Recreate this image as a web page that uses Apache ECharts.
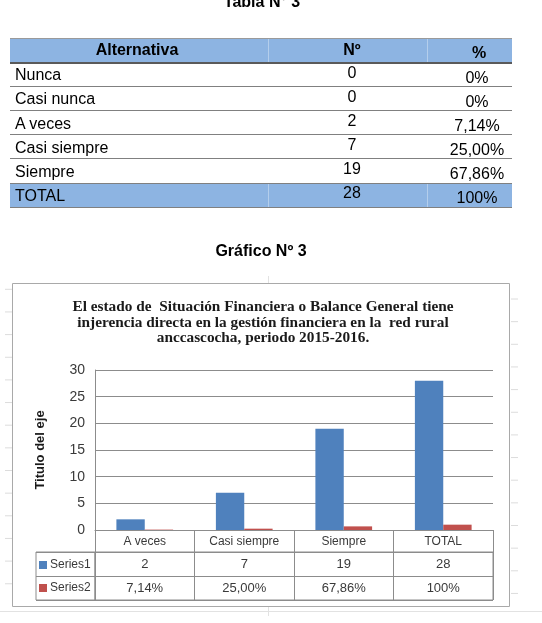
<!DOCTYPE html>
<html><head><meta charset="utf-8">
<script src="https://cdn.jsdelivr.net/npm/echarts@6/dist/echarts.min.js"></script>
<style>
html,body{margin:0;padding:0;background:#fff;width:542px;height:623px;overflow:hidden;font-family:'Liberation Sans',Arial,sans-serif;}
#chart{position:absolute;left:0;top:0;width:542px;height:623px;}
#doc{position:absolute;left:0;top:0;width:542px;height:270px;}
.t{position:absolute;white-space:nowrap;color:#000;font-size:16px;line-height:16px;}
.c{text-align:center;width:120px;}
.b{font-weight:bold;}
.bg{position:absolute;background:#8db4e2;}
.hl{position:absolute;height:0;border-top:1px solid #7a7a7a;}
.vl{position:absolute;width:0;border-left:1px solid rgba(255,255,255,0.35);}
</style></head><body>
<div id="chart"></div>
<div id="doc"></div>
<script>
// ---- Data ----
const tableTitle = 'Tabla N° 3';
const chartCaption = 'Gráfico Nº 3';
const tableHeaders = ['Alternativa', 'Nº', '%'];
const tableAlternatives = ['Nunca', 'Casi nunca', 'A veces', 'Casi siempre', 'Siempre', 'TOTAL'];
const tableCounts = [0, 0, 2, 7, 19, 28];
const tablePercents = ['0%', '0%', '7,14%', '25,00%', '67,86%', '100%'];

const chartTitleLines = [
  'El estado de  Situación Financiera o Balance General tiene',
  'injerencia directa en la gestión financiera en la  red rural',
  'anccascocha, periodo 2015-2016.'
];
const categories = ['A veces', 'Casi siempre', 'Siempre', 'TOTAL'];
const seriesNames = ['Series1', 'Series2'];
const series1 = [2, 7, 19, 28];
const series2 = [0.0714, 0.25, 0.6786, 1];
const series2Labels = ['7,14%', '25,00%', '67,86%', '100%'];
const yAxisTitle = 'Titulo del eje';

// ---- Document part (table) ----
const doc = document.getElementById('doc');
function add(cls, text, css) {
  const d = document.createElement('div');
  d.className = cls;
  if (text !== null) d.textContent = text;
  Object.assign(d.style, css);
  doc.appendChild(d);
  return d;
}
const BASE = 13.5; // baseline offset in a 16px line box
add('t c b', tableTitle, {left: (262 - 60) + 'px', top: (7 - BASE) + 'px'});
add('t c b', chartCaption, {left: (261 - 60) + 'px', top: (256 - BASE) + 'px'});

const tX0 = 10, tX1 = 512, headTop = 38, rowH = 24.1, row0 = 62.5;
const col1C = 352, col2C = 477;
add('bg', null, {left: tX0 + 'px', top: headTop + 'px', width: (tX1 - tX0) + 'px', height: (row0 - headTop) + 'px'});
const totalTop = row0 + rowH * (tableAlternatives.length - 1);
add('bg', null, {left: tX0 + 'px', top: totalTop + 'px', width: (tX1 - tX0) + 'px', height: rowH + 'px'});
[268, 427].forEach(x => {
  add('vl', null, {left: x + 'px', top: headTop + 'px', height: (row0 - headTop) + 'px'});
  add('vl', null, {left: x + 'px', top: totalTop + 'px', height: rowH + 'px'});
});
add('t c b', tableHeaders[0], {left: (137 - 60) + 'px', top: (55 - BASE) + 'px'});
add('t c b', tableHeaders[1], {left: (col1C - 60) + 'px', top: (55 - BASE) + 'px'});
add('t c b', tableHeaders[2], {left: (479 - 60) + 'px', top: (58.3 - BASE) + 'px'});
// horizontal lines
add('hl', null, {left: tX0 + 'px', top: headTop + 'px', width: (tX1 - tX0) + 'px', borderTopColor: '#9a9a9a'});
for (let i = 0; i <= tableAlternatives.length; i++) {
  const y = row0 + rowH * i;
  add('hl', null, {left: tX0 + 'px', top: (y - 0.5) + 'px', width: (tX1 - tX0) + 'px', borderTopWidth: (i === 0 ? '2px' : '1.5px'), borderTopColor: (i === 0 ? '#5a5a5a' : '#808080')});
}
tableAlternatives.forEach((name, i) => {
  const top = row0 + rowH * i;
  add('t', name, {left: '15px', top: (top + 18.3 - BASE) + 'px'});
  add('t c', String(tableCounts[i]), {left: (col1C - 60) + 'px', top: (top + 15.7 - BASE) + 'px'});
  add('t c', tablePercents[i], {left: (col2C - 60) + 'px', top: (top + 20.7 - BASE) + 'px'});
});

// ---- Chart ----
const chart = echarts.init(document.getElementById('chart'), null, {renderer: 'canvas'});
const lineColor = '#8c8c8c';
const textColor = '#3a3a3a';
const FONT = 'Liberation Sans';

const tableCells = [];
categories.forEach((c, i) => {
  tableCells.push({value: [c, seriesNames[0]], label: {formatter: String(series1[i])}});
  tableCells.push({value: [c, seriesNames[1]], label: {formatter: series2Labels[i]}});
});

// faint worksheet gridlines visible around the chart frame (decoration)
const sheetLines = [];
for (let k = 0; k < 14; k++) {
  const yl = 289.3 + 22.65 * k;
  sheetLines.push({type: 'line', shape: {x1: 5, y1: yl, x2: 12, y2: yl}, style: {stroke: '#dcdcdc', lineWidth: 1}, silent: true});
  const yr = 299 + 22.65 * k;
  sheetLines.push({type: 'line', shape: {x1: 511, y1: yr, x2: 518, y2: yr}, style: {stroke: '#dcdcdc', lineWidth: 1}, silent: true});
}
sheetLines.push({type: 'line', shape: {x1: 0, y1: 611.5, x2: 542, y2: 611.5}, style: {stroke: '#e2e2e2', lineWidth: 1}, silent: true});
sheetLines.push({type: 'line', shape: {x1: 268.5, y1: 276, x2: 268.5, y2: 283}, style: {stroke: '#e2e2e2', lineWidth: 1}, silent: true});
sheetLines.push({type: 'line', shape: {x1: 268.5, y1: 607, x2: 268.5, y2: 616}, style: {stroke: '#e2e2e2', lineWidth: 1}, silent: true});

const option = {
  animation: false,
  backgroundColor: 'transparent',
  graphic: sheetLines.concat([
    {type: 'rect', shape: {x: 12.5, y: 283.5, width: 497, height: 323}, style: {fill: 'none', stroke: '#a9a9a9', lineWidth: 1}, silent: true, z: -1},
    {type: 'text', x: 263, y: 299.5, style: {text: chartTitleLines.join('\n'), align: 'center', verticalAlign: 'top', font: 'bold 15.3px "Liberation Serif"', lineHeight: 15.5, fill: '#1a1a1a'}}
  ]),
  legend: [
    {data: [seriesNames[0]], left: 39, top: 559, orient: 'horizontal', icon: 'rect', itemWidth: 8, itemHeight: 8, itemGap: 4, selectedMode: false, padding: 0, textStyle: {fontFamily: FONT, fontSize: 12, color: textColor, padding: [0, 0, 0, -2]}},
    {data: [seriesNames[1]], left: 39, top: 582, orient: 'horizontal', icon: 'rect', itemWidth: 8, itemHeight: 8, itemGap: 4, selectedMode: false, padding: 0, textStyle: {fontFamily: FONT, fontSize: 12, color: textColor, padding: [0, 0, 0, -2]}}
  ],
  grid: [
    {left: 95, width: 398, top: 370, height: 160, containLabel: false},
    {left: 95, width: 398, top: 552, height: 48, show: true, borderColor: lineColor, borderWidth: 1, backgroundColor: 'transparent'},
    {left: 36, width: 59, top: 552, height: 48, show: true, borderColor: lineColor, borderWidth: 1, backgroundColor: 'transparent'}
  ],
  xAxis: [
    {type: 'category', gridIndex: 0, data: categories,
     axisLine: {show: true, lineStyle: {color: lineColor, width: 1}},
     axisTick: {show: true, length: 22, lineStyle: {color: lineColor, width: 1}},
     axisLabel: {fontFamily: FONT, fontSize: 12, color: textColor, margin: 6},
     splitLine: {show: false}},
    {type: 'category', gridIndex: 1, data: categories,
     axisLine: {show: false}, axisTick: {show: false}, axisLabel: {show: false},
     splitLine: {show: true, lineStyle: {color: lineColor, width: 1}}},
    {type: 'category', gridIndex: 2, data: [''],
     axisLine: {show: false}, axisTick: {show: false}, axisLabel: {show: false}, splitLine: {show: false}}
  ],
  yAxis: [
    {type: 'value', gridIndex: 0, min: 0, max: 30, interval: 5,
     axisLine: {show: true, lineStyle: {color: lineColor, width: 1}},
     axisTick: {show: false},
     axisLabel: {fontFamily: FONT, fontSize: 14, color: textColor, margin: 10},
     splitLine: {show: true, lineStyle: {color: lineColor, width: 1}},
     name: yAxisTitle, nameLocation: 'middle', nameGap: 48, nameRotate: 90,
     nameTextStyle: {fontFamily: FONT, fontSize: 13, fontWeight: 'bold', color: '#1a1a1a'}},
    {type: 'category', gridIndex: 1, data: seriesNames, inverse: true,
     axisLine: {show: false}, axisTick: {show: false}, axisLabel: {show: false},
     splitLine: {show: true, lineStyle: {color: lineColor, width: 1}}},
    {type: 'category', gridIndex: 2, data: seriesNames, inverse: true,
     axisLine: {show: false}, axisTick: {show: false}, axisLabel: {show: false},
     splitLine: {show: true, lineStyle: {color: lineColor, width: 1}}}
  ],
  series: [
    {name: seriesNames[0], type: 'bar', xAxisIndex: 0, yAxisIndex: 0, data: series1,
     itemStyle: {color: '#4f81bd'}, barGap: '0%', barCategoryGap: '43%'},
    {name: seriesNames[1], type: 'bar', xAxisIndex: 0, yAxisIndex: 0, data: series2,
     itemStyle: {color: '#c0504d'}, barGap: '0%', barCategoryGap: '43%'},
    {name: 'tabla', type: 'scatter', xAxisIndex: 1, yAxisIndex: 1, symbolSize: 0, data: tableCells,
     itemStyle: {opacity: 1},
     label: {show: true, position: 'inside', fontFamily: FONT, fontSize: 13, color: textColor, opacity: 1}, silent: true}
  ]
};
chart.setOption(option);
</script>
</body></html>
